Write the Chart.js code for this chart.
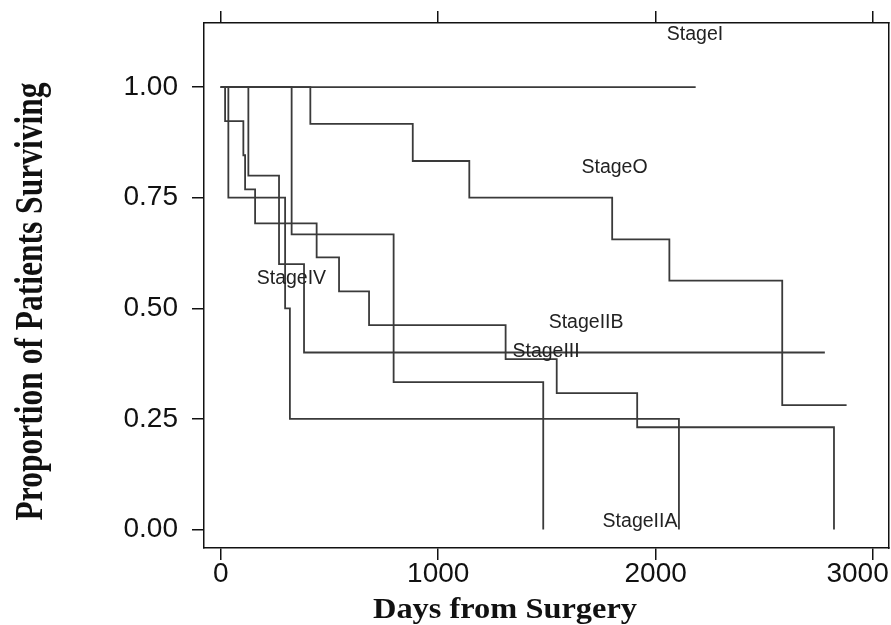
<!DOCTYPE html>
<html>
<head>
<meta charset="utf-8">
<script src="https://cdn.jsdelivr.net/npm/chart.js@4.4.1/dist/chart.umd.min.js"></script>
<style>
  html, body { margin: 0; padding: 0; background: #fff; }
  canvas { display: block; }
</style>
</head>
<body>
<canvas id="c" width="891" height="625"></canvas>
<script>
// ---- data (days, proportion surviving) ----
const stageIDays   = [0, 2184];
const stageISurv   = [1.0, 1.0];

const stageODays   = [0, 412, 883, 1143, 1800, 2063, 2582, 2878];
const stageOSurv   = [1.0, 0.917, 0.833, 0.75, 0.656, 0.5625, 0.281, 0.281];

const stageIIADays = [0, 35, 296, 318, 2107];
const stageIIASurv = [1.0, 0.75, 0.5, 0.25, 0.0];

const stageIIBDays = [0, 20, 104, 112, 158, 441, 544, 682, 1310, 1545, 1915, 2820];
const stageIIBSurv = [1.0, 0.923, 0.846, 0.769, 0.692, 0.615, 0.538, 0.462, 0.385, 0.308, 0.231, 0.0];

const stageIIIDays = [0, 127, 268, 383, 2778];
const stageIIISurv = [1.0, 0.8, 0.6, 0.4, 0.4];

const stageIVDays  = [0, 326, 795, 1483];
const stageIVSurv  = [1.0, 0.667, 0.333, 0.0];

const xTicks = [0, 1000, 2000, 3000];
const yTicks = [0, 0.25, 0.5, 0.75, 1.0];

const labelTexts = ['StageI', 'StageO', 'StageIV', 'StageIIB', 'StageIII', 'StageIIA'];
const labelDays  = [2181, 1811, 325, 1680, 1496, 1928];
const labelSurv  = [1.118, 0.818, 0.566, 0.467, 0.401, 0.018];

const xTitle = 'Days from Surgery';
const yTitle = 'Proportion of Patients Surviving';

// ---- build datasets ----
function pts(d, s) { return d.map((x, i) => ({ x: x, y: s[i] })); }
const series = [
  ['StageI', stageIDays, stageISurv],
  ['StageO', stageODays, stageOSurv],
  ['StageIIA', stageIIADays, stageIIASurv],
  ['StageIIB', stageIIBDays, stageIIBSurv],
  ['StageIII', stageIIIDays, stageIIISurv],
  ['StageIV', stageIVDays, stageIVSurv]
];
const lineColor = '#3a3a3a';
const datasets = series.map(([name, d, s]) => ({
  label: name,
  data: pts(d, s),
  stepped: true,
  borderColor: lineColor,
  borderWidth: 1.8,
  pointRadius: 0,
  fill: false,
  tension: 0
}));

const curveLabels = {
  id: 'curveLabels',
  afterDatasetsDraw(chart) {
    const ctx = chart.ctx;
    const xs = chart.scales.x, ys = chart.scales.y;
    ctx.save();
    ctx.font = '19.5px "Liberation Sans", Arial, sans-serif';
    ctx.fillStyle = '#222';
    ctx.textAlign = 'center';
    ctx.textBaseline = 'middle';
    labelTexts.forEach((t, i) => {
      ctx.fillText(t, xs.getPixelForValue(labelDays[i]), ys.getPixelForValue(labelSurv[i]));
    });
    ctx.restore();
  }
};

const axisTitles = {
  id: 'axisTitles',
  afterDraw(chart) {
    const ctx = chart.ctx;
    ctx.save();
    ctx.fillStyle = '#111';
    ctx.textAlign = 'center';
    ctx.textBaseline = 'alphabetic';
    ctx.save();
    ctx.font = 'bold 30px "Liberation Serif", "Times New Roman", serif';
    ctx.translate(505, 618);
    ctx.scale(1.08, 1);
    ctx.fillText(xTitle, 0, 0);
    ctx.restore();
    ctx.font = 'bold 31.5px "Liberation Serif", "Times New Roman", serif';
    ctx.translate(41.5, 301.5);
    ctx.scale(1.3, 1);
    ctx.rotate(-Math.PI / 2);
    ctx.fillText(yTitle, 0, 0);
    ctx.restore();
  }
};

function noPad(s) { s.paddingLeft = 0; s.paddingRight = 0; s.paddingTop = 0; s.paddingBottom = 0; }

const frameColor = '#111';
const tickFont = { family: '"Liberation Sans", Arial, sans-serif', size: 28 };

new Chart(document.getElementById('c'), {
  type: 'line',
  data: { datasets: datasets },
  plugins: [curveLabels, axisTitles],
  options: {
    responsive: false,
    animation: false,
    devicePixelRatio: 1,
    layout: { padding: 0 },
    plugins: { legend: { display: false }, tooltip: { enabled: false } },
    scales: {
      x: {
        type: 'linear', position: 'bottom', min: -77, max: 3073,
        afterBuildTicks: (s) => { s.ticks = xTicks.map(v => ({ value: v })); },
        afterFit: (s) => { s.height = 77; noPad(s); },
        grid: { display: true, drawOnChartArea: false, drawTicks: true, tickLength: 12, color: frameColor, lineWidth: 1.5 },
        border: { display: true, color: frameColor, width: 1.5 },
        ticks: { color: '#111', font: tickFont, padding: -3, maxRotation: 0,
                 callback: (v) => (v === 3000 ? '3000\u2007\u2007' : String(v)) }
      },
      xTop: {
        type: 'linear', position: 'top', min: -77, max: 3073,
        afterBuildTicks: (s) => { s.ticks = xTicks.map(v => ({ value: v })); },
        afterFit: (s) => { s.height = 23; noPad(s); },
        grid: { display: true, drawOnChartArea: false, drawTicks: true, tickLength: 12, color: frameColor, lineWidth: 1.5 },
        border: { display: true, color: frameColor, width: 1.5 },
        ticks: { display: false }
      },
      y: {
        type: 'linear', position: 'left', min: -0.042, max: 1.145,
        afterBuildTicks: (s) => { s.ticks = yTicks.map(v => ({ value: v })); },
        afterFit: (s) => { s.width = 204; noPad(s); },
        grid: { display: true, drawOnChartArea: false, drawTicks: true, tickLength: 12, color: frameColor, lineWidth: 1.5 },
        border: { display: true, color: frameColor, width: 1.5 },
        ticks: { color: '#111', font: tickFont, padding: 14, callback: (v) => v.toFixed(2) }
      },
      yRight: {
        type: 'linear', position: 'right', min: 0, max: 1,
        afterFit: (s) => { s.width = 2; noPad(s); },
        grid: { display: false },
        border: { display: true, color: frameColor, width: 1.5 },
        ticks: { display: false }
      }
    }
  }
});
</script>
</body>
</html>
